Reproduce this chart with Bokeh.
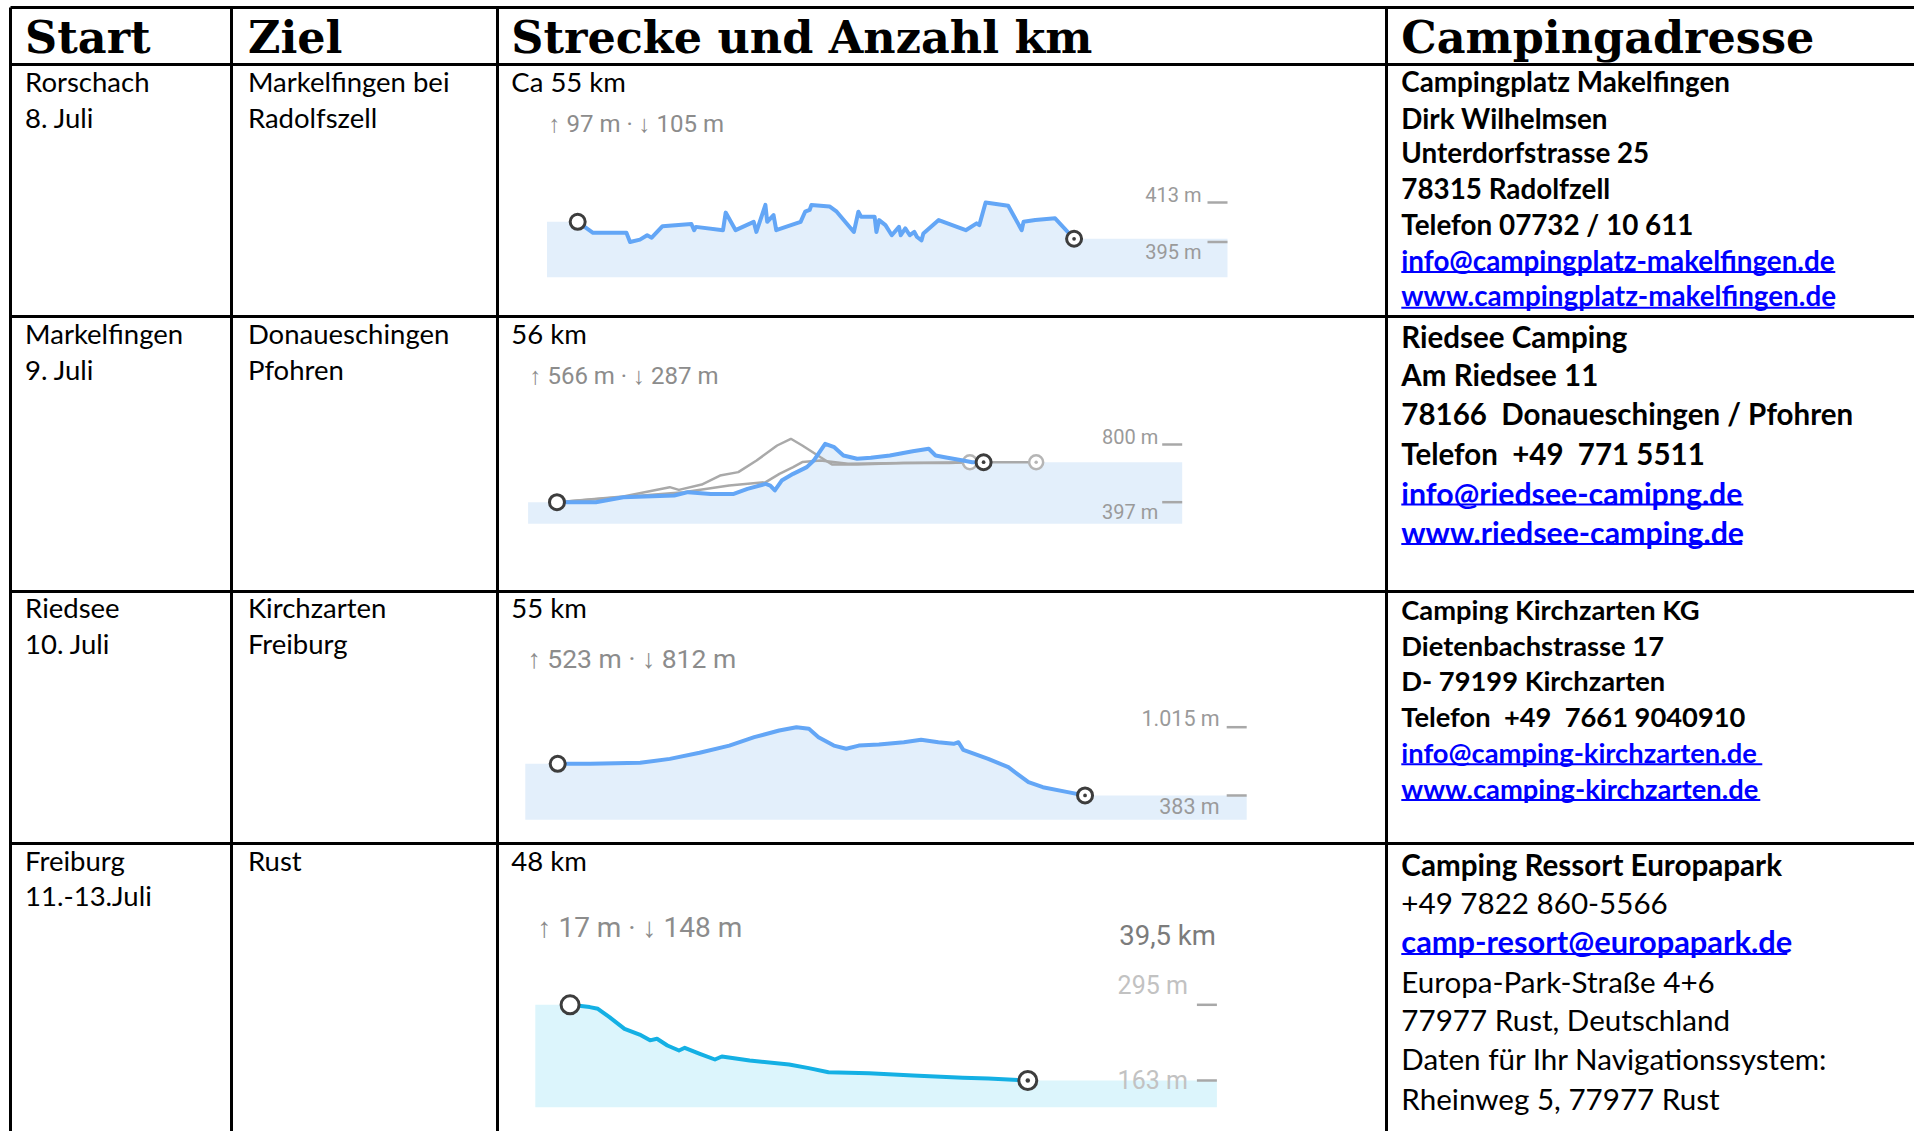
from bokeh.plotting import figure
from bokeh.models import Range1d
from bokeh.embed import file_html
from bokeh.resources import INLINE
from bokeh.core.properties import value

# ---------------- table content ----------------
header = ["Start", "Ziel", "Strecke und Anzahl km", "Campingadresse"]
start_col = [["Rorschach", "8. Juli"], ["Markelfingen", "9. Juli"],
             ["Riedsee", "10. Juli"], ["Freiburg", "11.-13.Juli"]]
ziel_col = [["Markelfingen bei", "Radolfszell"], ["Donaueschingen", "Pfohren"],
            ["Kirchzarten", "Freiburg"], ["Rust"]]
strecke_col = ["Ca 55 km", "56 km", "55 km", "48 km"]
address_col = [
    [("Campingplatz Makelfingen", "b"), ("Dirk Wilhelmsen", "b"), ("Unterdorfstrasse 25", "b"),
     ("78315 Radolfzell", "b"), ("Telefon 07732 / 10 611", "b"),
     ("info@campingplatz-makelfingen.de", "link"), ("www.campingplatz-makelfingen.de", "link")],
    [("Riedsee Camping", "b"), ("Am Riedsee 11", "b"), ("78166  Donaueschingen / Pfohren", "b"),
     ("Telefon  +49  771 5511", "b"), ("info@riedsee-camipng.de", "link"), ("www.riedsee-camping.de", "link")],
    [("Camping Kirchzarten KG", "b"), ("Dietenbachstrasse 17", "b"), ("D- 79199 Kirchzarten", "b"),
     ("Telefon  +49  7661 9040910", "b"), ("info@camping-kirchzarten.de", "link"),
     ("www.camping-kirchzarten.de", "link")],
    [("Camping Ressort Europapark", "b"), ("+49 7822 860-5566", "n"), ("camp-resort@europapark.de", "link"),
     ("Europa-Park-Straße 4+6", "n"), ("77977 Rust, Deutschland", "n"),
     ("Daten für Ihr Navigationssystem:", "n"), ("Rheinweg 5, 77977 Rust", "n")],
]

# ---------------- elevation profiles (km, m) ----------------
p1_km = [0, 1.7, 5.4, 5.8, 6.9, 7.7, 8.2, 9.4, 12.6, 12.9, 13.1, 16.1, 16.4, 17.5, 19.5, 19.8, 20.8, 21.0,
         21.7, 22.0, 24.7, 25.2, 25.7, 25.9, 27.9, 28.7, 30.6, 31.1, 31.4, 32.9, 33.1, 33.4, 34.1, 34.8,
         35.6, 35.8, 36.3, 36.8, 37.3, 37.6, 38.1, 38.3, 40.0, 43.0, 44.2, 44.5, 45.2, 47.7, 49.2, 49.4,
         50.7, 52.9, 55.0]
p1_elev = [404.2, 399.2, 399.2, 395.0, 396.1, 398.1, 397.0, 402.2, 403.2, 400.4, 401.9, 400.4, 408.4,
           400.4, 404.2, 399.6, 411.9, 404.2, 407.3, 400.4, 404.2, 408.8, 409.6, 411.9, 411.2, 408.8,
           399.6, 408.8, 406.5, 406.5, 399.6, 405.0, 402.7, 398.1, 401.9, 398.1, 401.2, 398.1, 399.6,
           397.3, 395.8, 398.9, 405.0, 400.4, 403.5, 402.7, 413.0, 411.5, 400.4, 404.2, 405.0, 405.8,
           396.5]

p2_km = [0, 5.1, 8.7, 15.4, 17.2, 20.2, 23.2, 25.0, 27.4, 28.0, 28.6, 29.5, 31.0, 32.8, 33.7, 35.2,
         36.4, 37.6, 39.4, 41.2, 43.7, 46.7, 48.8, 49.7, 50.9, 53.3, 54.5, 56.0]
p2_elev = [397, 397, 432, 444, 467, 455, 455, 490, 525, 513, 479, 548, 595, 642, 688, 805, 781, 723,
           700, 707, 723, 753, 770, 723, 711, 688, 676, 676]
p2_alt1_km = [0, 8.7, 14.8, 16.0, 19.0, 21.4, 23.8, 26.2, 28.9, 30.7, 32.2, 34.6, 36.1, 39.4, 45.5,
              51.5, 54.2]
p2_alt1_elev = [397, 437, 502, 483, 520, 583, 607, 688, 793, 840, 793, 711, 660, 660, 670, 670, 676]
p2_alt2_km = [0, 16.6, 22.6, 27.4, 29.2, 31.0, 32.2, 34.6, 38.2, 45.5, 54.2, 62.9]
p2_alt2_elev = [397, 467, 513, 537, 595, 642, 677, 688, 665, 670, 676, 676]

p3_km = [0, 3.4, 8.6, 11.7, 14.8, 17.9, 20.5, 23.1, 24.9, 26.2, 27.2, 28.8, 30.1, 31.4, 33.5, 36.1,
         37.9, 39.7, 41.3, 41.8, 42.3, 44.9, 47.0, 49.1, 50.6, 53.2, 55.0]
p3_elev = [676, 676, 685, 722, 778, 845, 923, 984, 1015, 1000, 923, 845, 815, 845, 855, 876, 898, 876,
           861, 876, 805, 722, 645, 506, 460, 414, 383]

p4_km = [0, 1.7, 2.4, 3.4, 4.7, 6.0, 6.9, 7.5, 8.4, 9.4, 9.9, 11.2, 12.5, 13.1, 15.5, 18.9, 20.6, 22.3,
         25.8, 29.6, 33.9, 36.1, 39.5]
p4_elev = [295, 291, 288, 273.5, 253, 243, 233, 235.7, 224, 215.3, 220, 209.5, 199.6, 204.9, 197.9,
           190.9, 184.5, 177.5, 175.8, 171.7, 167.7, 166.5, 163]

gain_texts = ["↑ 97 m · ↓ 105 m", "↑ 566 m · ↓ 287 m", "↑ 523 m · ↓ 812 m", "↑ 17 m · ↓ 148 m"]
max_labels = [(413, "413 m"), (800, "800 m"), (1015, "1.015 m"), (295, "295 m")]
min_labels = [(395, "395 m"), (397, "397 m"), (383, "383 m"), (163, "163 m")]
dist_label = "39,5 km"


def keep_spaces(s):
    return s.replace("  ", " \u00a0")


# ---------------- figure (data space == picture pixels) ----------------
p = figure(width=1914, height=1131, x_range=Range1d(0, 1914), y_range=Range1d(1131, 0),
           output_backend="svg", toolbar_location=None, min_border=0,
           x_axis_location=None, y_axis_location=None)
p.grid.visible = False
p.outline_line_color = None
p.background_fill_color = "white"

# ---------------- elevation charts ----------------
charts = [
    dict(km=p1_km, el=p1_elev, xs=(-3.4, 72.0), ys=(379, 413), xt=(546.5, 1227), yt=(276.7, 202),
         line="#63a6f6", fill="#e3effb", ms=15, gain=(548, 123, 24), lab_dx=26, lab_fs=20,
         lab_col="#9a9a9a", max_dy=-8, min_dy=10),
    dict(km=p2_km, el=p2_elev, xs=(-3.79, 82.07), ys=(246, 800), xt=(527.6, 1181.7), yt=(523.3, 444),
         line="#63a6f6", fill="#e3effb", ms=15, gain=(529, 375, 24), lab_dx=24, lab_fs=20,
         lab_col="#9a9a9a", max_dy=-8, min_dy=10),
    dict(km=p3_km, el=p3_elev, xs=(-3.38, 71.86), ys=(158, 1015), xt=(524.8, 1246.2), yt=(819.3, 726.7),
         line="#63a6f6", fill="#e3effb", ms=15, gain=(527, 658, 26.5), lab_dx=27, lab_fs=21.5,
         lab_col="#9a9a9a", max_dy=-9, min_dy=11),
    dict(km=p4_km, el=p4_elev, xs=(-3.0, 55.82), ys=(116.4, 295), xt=(534.8, 1216.4), yt=(1106.7, 1004.3),
         line="#14b0e4", fill="#dcf5fc", ms=18, gain=(537, 927, 28), lab_dx=29, lab_fs=25,
         lab_col="#c2c2c2", max_dy=-19, min_dy=0),
]

for i, c in enumerate(charts):
    xs = Range1d(*c["xs"]); ys = Range1d(*c["ys"])
    sub = p.subplot(x_source=xs, y_source=ys, x_target=Range1d(*c["xt"]), y_target=Range1d(*c["yt"]))
    km, el = c["km"], c["el"]
    fx = [xs.start] + km + [xs.end]
    fy = [el[0]] + el + [el[-1]]
    sub.varea(x=fx, y1=[ys.start] * len(fx), y2=fy, fill_color=c["fill"])
    if i == 1:
        sub.line(p2_alt1_km, p2_alt1_elev, line_color="#a9a9a9", line_width=2.5)
        sub.line(p2_alt2_km, p2_alt2_elev, line_color="#a9a9a9", line_width=2.5)
        sub.scatter([p2_alt1_km[-1]], [p2_alt1_elev[-1]], marker="circle", size=14,
                    fill_color="white", line_color="#b5b5b5", line_width=2.5)
        sub.scatter([p2_alt2_km[-1]], [p2_alt2_elev[-1]], marker="circle_dot", size=14,
                    fill_color="white", line_color="#b5b5b5", line_width=2.5)
    sub.line(km, el, line_color=c["line"], line_width=4, line_join="round")
    sub.scatter([km[0]], [el[0]], marker="circle", size=c["ms"], fill_color="white",
                line_color="#3d3d3d", line_width=3)
    sub.scatter([km[-1]], [el[-1]], marker="circle_dot", size=c["ms"], fill_color="white",
                line_color="#3d3d3d", line_width=3)
    # right-hand min/max ticks
    span_km = xs.end - xs.start
    tick_km = span_km * 20 / (c["xt"][1] - c["xt"][0])
    mx, mxl = max_labels[i]; mn, mnl = min_labels[i]
    sub.segment(x0=[xs.end - tick_km] * 2, x1=[xs.end] * 2, y0=[mx, mn], y1=[mx, mn],
                line_color="#a8a8a8", line_width=2.5)
    sub.text(x=[xs.end], y=[mx], text=[mxl], x_offset=-c["lab_dx"], y_offset=c["max_dy"],
             text_align="right", text_baseline="middle", text_font=value("Roboto"),
             text_font_size=f"{c['lab_fs']}px", text_color=c["lab_col"])
    sub.text(x=[xs.end], y=[mn], text=[mnl], x_offset=-c["lab_dx"], y_offset=c["min_dy"],
             text_align="right", text_baseline="middle", text_font=value("Roboto"),
             text_font_size=f"{c['lab_fs']}px", text_color=c["lab_col"])
    gx, gy, gfs = c["gain"]
    p.text(x=[gx], y=[gy], text=[gain_texts[i]], text_align="left", text_baseline="middle",
           text_font=value("Roboto"), text_font_size=f"{gfs}px", text_color="#8c8c8c")
    if i == 3:
        sub.text(x=[xs.end], y=[mx], text=[dist_label], x_offset=-1, y_offset=-69,
                 text_align="right", text_baseline="middle", text_font=value("Roboto"),
                 text_font_size="27.5px", text_color="#7c7c7c")

# ---------------- table grid ----------------
h_lines = [7, 64, 316, 591, 843]
v_lines = [10, 231, 497, 1386]
p.segment(x0=[10] * len(h_lines), x1=[1930] * len(h_lines), y0=h_lines, y1=h_lines,
          line_color="black", line_width=3)
p.segment(x0=v_lines, x1=v_lines, y0=[7] * len(v_lines), y1=[1150] * len(v_lines),
          line_color="black", line_width=3)

# ---------------- header ----------------
col_x = [24.6, 247.4, 510.8, 1400.8]
p.text(x=col_x, y=[36] * 4, text=header, text_align="left", text_baseline="middle",
       text_font=value("DejaVu Serif"), text_font_style="bold", text_font_size="44.5px",
       text_color="black")

# ---------------- body cells ----------------
row_y = [[80.5, 117.4], [332.8, 368.5], [607.3, 643.0], [859.6, 895.3]]
for r in range(4):
    for col, lines in ((0, start_col[r]), (1, ziel_col[r])):
        p.text(x=[col_x[col]] * len(lines), y=row_y[r][:len(lines)], text=lines,
               text_align="left", text_baseline="middle", text_font=value("Lato"),
               text_font_size="27.5px", text_color="black")
    p.text(x=[col_x[2]], y=[row_y[r][0]], text=[strecke_col[r]], text_align="left",
           text_baseline="middle", text_font=value("Lato"), text_font_size="27.5px", text_color="black")

addr_y = [[81.0, 117.9, 152.4, 188.1, 223.8, 259.5, 295.2],
          [335.8, 373.9, 413.3, 452.7, 492.1, 531.5],
          [609.0, 644.7, 680.4, 716.1, 751.8, 787.5],
          [863.8, 902.0, 941.4, 980.8, 1018.9, 1058.3, 1097.7]]
addr_fs = [27.8, 29.5, 27.3, 29.6]
link_fs = [27.8, 30.3, 27.3, 30.8]
link_w = [[434, 433], [342, 341], [361, 359], [386]]
for r in range(4):
    k = 0
    for (txt, sty), y in zip(address_col[r], addr_y[r]):
        bold = sty in ("b", "link")
        color = "#0000ff" if sty == "link" else "black"
        fs = link_fs[r] if sty == "link" else addr_fs[r]
        p.text(x=[col_x[3]], y=[y], text=[keep_spaces(txt)], text_align="left", text_baseline="middle",
               text_font=value("Lato"), text_font_style="bold" if bold else "normal",
               text_font_size=f"{fs}px", text_color=color)
        if sty == "link":
            w = link_w[r][k]; k += 1
            p.segment(x0=[col_x[3]], x1=[col_x[3] + w], y0=[y + 12], y1=[y + 12],
                      line_color="#0000ff", line_width=2)

open("out.html", "w").write(file_html(p, INLINE))
